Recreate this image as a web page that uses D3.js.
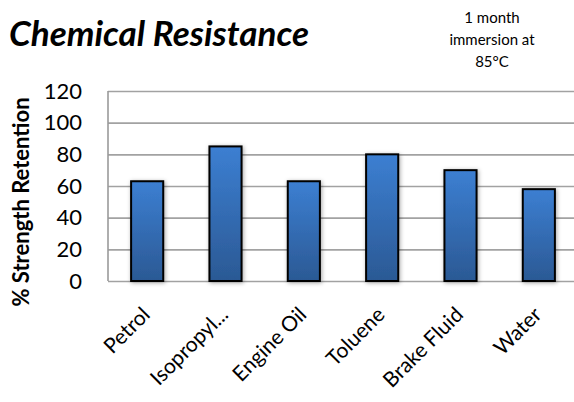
<!DOCTYPE html>
<html>
<head>
<meta charset="utf-8">
<script src="https://cdn.jsdelivr.net/npm/d3@7"></script>
<style>
  body { margin: 0; background: #fff; }
  svg { display: block; font-family: Lato, "Liberation Sans", sans-serif; }
</style>
</head>
<body>
<div id="chart"></div>
<script>
const categories = ["Petrol", "Isopropyl...", "Engine Oil", "Toluene", "Brake Fluid", "Water"];
const retention = [63, 85, 63, 80, 70, 58];
const yTicks = [0, 20, 40, 60, 80, 100, 120];
const noteLines = ["1 month", "immersion at", "85°C"];

const W = 574, H = 402;
const margin = { top: 91, right: -4, bottom: 121, left: 108 };
const width = W - margin.left - margin.right;
const height = H - margin.top - margin.bottom;

const root = d3.select("#chart").append("svg")
  .attr("width", W).attr("height", H);

const defs = root.append("defs");
const grad = defs.append("linearGradient")
  .attr("id", "barGrad").attr("x1", 0).attr("y1", 0).attr("x2", 0).attr("y2", 1);
grad.append("stop").attr("offset", "0%").attr("stop-color", "#3c7fd2");
grad.append("stop").attr("offset", "100%").attr("stop-color", "#2b5994");

const shadow = defs.append("filter").attr("id", "shadow")
  .attr("x", "-30%").attr("y", "-10%").attr("width", "160%").attr("height", "120%");
shadow.append("feDropShadow").attr("dx", 1).attr("dy", 1).attr("stdDeviation", 2)
  .attr("flood-color", "#000").attr("flood-opacity", 0.35);

// title + note
root.append("text")
  .attr("x", 9).attr("y", 46)
  .style("font-size", "35px").style("font-weight", "bold").style("font-style", "italic")
  .text("Chemical Resistance");

root.append("g").selectAll("text")
  .data(noteLines).enter().append("text")
  .attr("x", 492).attr("y", (d, i) => 23 + i * 22)
  .attr("text-anchor", "middle")
  .style("font-size", "15px")
  .text(d => d);

const svg = root.append("g").attr("transform", `translate(${margin.left},${margin.top})`);

const x = d3.scaleBand().domain(categories).range([0, width])
  .paddingInner(0.59).paddingOuter(0.295);
const y = d3.scaleLinear().domain([0, 120]).range([height, 0]);

// gridlines
svg.append("g").attr("class", "grid")
  .call(d3.axisLeft(y).tickValues(yTicks).tickSize(-width).tickFormat(""))
  .call(g => g.select(".domain").remove())
  .selectAll("line")
    .attr("stroke", "#a2a2a2").attr("stroke-width", 1.6);

// left frame line
svg.append("line")
  .attr("x1", 0).attr("x2", 0).attr("y1", 0).attr("y2", height)
  .attr("stroke", "#9a9a9a").attr("stroke-width", 1.6);

// y tick labels
svg.append("g")
  .call(d3.axisLeft(y).tickValues(yTicks).tickSize(0).tickPadding(26))
  .call(g => g.select(".domain").remove())
  .selectAll("text")
    .style("font-family", "Lato, sans-serif")
    .style("font-size", "22px")
    .attr("fill", "#000");

// bars
svg.selectAll(".bar")
  .data(retention).enter().append("rect")
  .attr("class", "bar")
  .attr("x", (d, i) => x(categories[i]))
  .attr("y", d => y(d))
  .attr("width", x.bandwidth())
  .attr("height", d => height - y(d))
  .attr("fill", "url(#barGrad)")
  .attr("stroke", "#000")
  .attr("stroke-width", 2)
  .attr("filter", "url(#shadow)");

// x labels
svg.append("g").selectAll("text")
  .data(categories).enter().append("text")
  .attr("transform", d => `translate(${x(d) + x.bandwidth() / 2 + 4},${height + 35}) rotate(-45)`)
  .attr("text-anchor", "end")
  .style("font-size", "21px")
  .text(d => d);

// y axis title
root.append("text")
  .attr("transform", `translate(29,${margin.top + 111}) rotate(-90)`)
  .attr("text-anchor", "middle")
  .style("font-size", "22px").style("font-weight", "bold")
  .text("% Strength Retention");
</script>
</body>
</html>
